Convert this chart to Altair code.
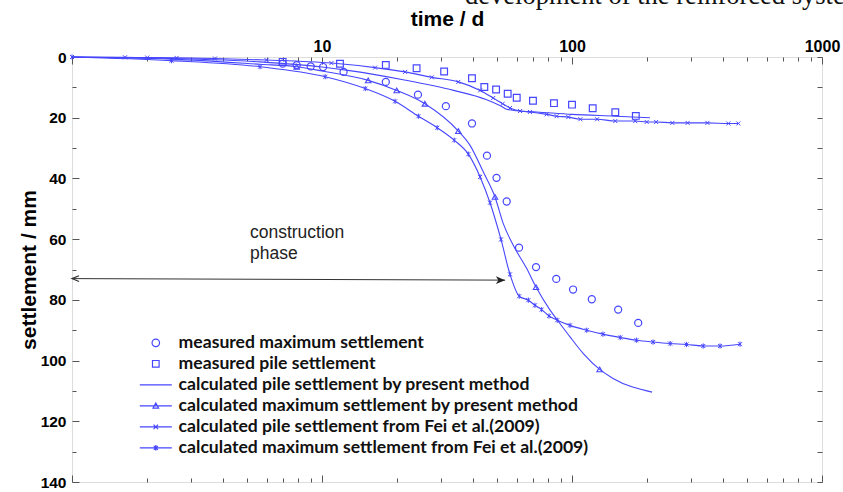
import altair as alt
import pandas as pd

# ---- measured data -------------------------------------------------------
meas_max_t = [6.96, 7.92, 9.01, 10.1, 12.2, 18.0, 24.2, 31.3, 39.8, 45.7, 49.9, 54.8,
              61.4, 71.8, 86.5, 101, 120, 153, 184]
meas_max_s = [2.2, 2.7, 3.1, 3.3, 4.9, 8.2, 12.4, 16.2, 21.9, 32.5, 39.8, 47.6,
              62.8, 69.2, 73.1, 76.6, 79.8, 83.2, 87.6]

meas_pile_t = [6.96, 11.8, 18.0, 23.9, 30.8, 39.8, 44.6, 49.7, 55.3, 60.1, 69.8, 84.7,
               100, 121, 149, 180]
meas_pile_s = [1.6, 2.2, 2.6, 3.7, 4.8, 7.0, 9.9, 10.7, 12.1, 13.4, 14.4, 15.2,
               15.7, 16.9, 18.2, 19.4]

# ---- calculated curves ---------------------------------------------------
calc_pile_t = [1.0, 2.5, 5.65, 10.0, 12.9, 21.1, 33.6, 45.3, 51.5, 54.8, 60.0, 72.2,
               100, 150, 205]
calc_pile_s = [0.0, 0.5, 1.6, 3.3, 4.5, 7.5, 11.0, 14.0, 16.0, 17.2, 17.7, 18.1,
               18.9, 19.5, 20.0]

calc_max_t = [1.0, 2.5, 5.65, 7.92, 10.0, 15.3, 19.9, 25.8, 35.1, 39.1, 44.2, 49.2,
              53.1, 58.2, 65.9, 71.8, 81.7, 89.5, 98.2, 111, 129, 146, 209]
calc_max_s = [0.0, 0.7, 2.4, 3.2, 4.6, 7.7, 11.0, 15.4, 24.4, 29.1, 37.9, 46.1,
              54.9, 62.0, 69.7, 75.8, 83.4, 87.8, 92.2, 97.7, 102.9, 105.9, 110.4]
calc_max_mark_t = [7.92, 15.3, 19.9, 25.8, 35.1, 49.2, 71.8, 129]
calc_max_mark_s = [3.2, 7.7, 11.0, 15.4, 24.4, 46.1, 75.8, 102.9]

fei_pile_t = [1.0, 1.63, 2.0, 2.62, 3.73, 6.0, 10.9, 16.3, 21.5, 27.5, 35.1, 42.9,
              48.4, 52.8, 56.5, 62.0, 67.9, 79.2, 86.8, 96.7, 108, 126, 149, 179,
              199, 217, 252, 290, 348, 422, 463]
fei_pile_s = [0.0, 0.1, 0.2, 0.3, 0.5, 1.0, 2.0, 3.5, 4.9, 6.7, 8.2, 11.0,
              13.5, 15.4, 16.8, 17.8, 18.1, 18.9, 19.5, 19.8, 20.5, 20.5, 21.1, 21.1,
              21.4, 21.4, 21.7, 21.7, 21.7, 21.9, 21.9]

fei_max_t = [1.0, 2.5, 5.65, 10.3, 14.9, 19.6, 24.3, 28.9, 33.8, 38.5, 42.9, 47.0,
             52.0, 56.5, 61.5, 66.9, 71.1, 75.6, 80.9, 87.3, 98.2, 114.5, 133, 156,
             181, 211, 247, 287, 335, 391, 470]
fei_max_s = [0.0, 1.2, 3.2, 6.5, 10.4, 14.6, 19.5, 23.3, 27.4, 32.0, 39.5, 48.0,
             60.1, 71.6, 78.8, 80.1, 81.8, 83.2, 85.3, 86.7, 88.4, 90.0, 91.3, 92.4,
             93.3, 93.9, 94.4, 94.7, 95.2, 95.2, 94.6]

# ---- annotations ---------------------------------------------------------
phase_t = [1.0, 54.0]
phase_s = [73.0, 73.5]
phase_text = ["construction", "phase"]
phase_text_t = [5.15, 5.15]
phase_text_s = [58.0, 64.8]
header_text = "development of the reinforced system"

series_names = [
    "measured maximum settlement",
    "measured pile settlement",
    "calculated pile settlement by present method",
    "calculated maximum settlement by present method",
    "calculated pile settlement from Fei et al.(2009)",
    "calculated maximum settlement from Fei et al.(2009)",
]

# ---- styling -------------------------------------------------------------
BLUE = "#4646ff"
GRAY = "#555555"
FONT = "Liberation Sans"

x_scale = alt.Scale(type="log", domain=[1, 1000], nice=False)
y_scale = alt.Scale(domain=[0, 140], reverse=True, nice=False)

major_x = [1, 10, 100, 1000]
minor_x = [m * d for d in (1, 10, 100) for m in range(2, 10)]
major_y = list(range(0, 141, 20))
minor_y = list(range(10, 140, 20))
all_y = list(range(0, 141, 10))

common = dict(grid=False, domain=False, tickColor=GRAY, tickWidth=1)

ax_top = alt.Axis(orient="top", values=major_x, tickSize=7, offset=-7,
                  labelExpr="datum.value >= 10 ? format(datum.value, 'd') : ''",
                  labelOverlap=False, labelFlush=False, labelPadding=3,
                  labelFont=FONT, labelFontSize=16, labelFontWeight="bold",
                  labelColor="black", title="time / d", titleFont=FONT,
                  titleFontSize=21, titleFontWeight="bold", titleColor="black",
                  titlePadding=9, **common)
ax_top_minor = alt.Axis(orient="top", values=minor_x, tickSize=4, offset=-4,
                        labels=False, title=None, **common)
ax_bottom = alt.Axis(orient="bottom", values=major_x, tickSize=7, offset=-7,
                     labels=False, title=None, **common)
ax_bottom_minor = alt.Axis(orient="bottom", values=minor_x, tickSize=4, offset=-4,
                           labels=False, title=None, **common)
ax_left = alt.Axis(orient="left", values=major_y, tickSize=7, offset=-7,
                   labelOverlap=False, labelFlush=False, labelPadding=6,
                   labelFont=FONT, labelFontSize=15.5, labelFontWeight="bold",
                   labelColor="black", title="settlement / mm", titleFont=FONT,
                   titleFontSize=21, titleFontWeight="bold", titleColor="black",
                   titlePadding=1, **common)
ax_left_minor = alt.Axis(orient="left", values=minor_y, tickSize=4, offset=-4,
                         labels=False, title=None, **common)
ax_right = alt.Axis(orient="right", values=all_y, tickSize=5, offset=-5,
                    labels=False, title=None, **common)


def enc(xaxis=None, yaxis=None):
    return dict(
        x=alt.X("t:Q", scale=x_scale, axis=xaxis),
        y=alt.Y("s:Q", scale=y_scale, axis=yaxis),
    )


def frame(t, s):
    return pd.DataFrame({"t": t, "s": s})


X_PATH = "M-1,-1L1,1M-1,1L1,-1"
STAR_PATH = "M-1,-1L1,1M-1,1L1,-1M0,-1.3L0,1.3"

circles = alt.Chart(frame(meas_max_t, meas_max_s)).mark_point(
    shape="circle", filled=False, size=50, strokeWidth=1.2, color=BLUE, opacity=1
).encode(**enc(ax_top, ax_left))

squares = alt.Chart(frame(meas_pile_t, meas_pile_s)).mark_point(
    shape="square", filled=False, size=45, strokeWidth=1.2, color=BLUE, opacity=1
).encode(**enc(ax_top_minor, ax_left_minor))

pile_line = alt.Chart(frame(calc_pile_t, calc_pile_s)).mark_line(
    interpolate="monotone", color=BLUE, strokeWidth=1.1
).encode(**enc(ax_bottom, ax_right))

max_line = alt.Chart(frame(calc_max_t, calc_max_s)).mark_line(
    interpolate="monotone", color=BLUE, strokeWidth=1.1
).encode(**enc(ax_bottom_minor, None))

max_marks = alt.Chart(frame(calc_max_mark_t, calc_max_mark_s)).mark_point(
    shape="triangle-up", filled=False, size=30, strokeWidth=1.1, color=BLUE, opacity=1
).encode(**enc())

fei_pile_line = alt.Chart(frame(fei_pile_t, fei_pile_s)).mark_line(
    interpolate="monotone", color=BLUE, strokeWidth=1.1
).encode(**enc())
fei_pile_marks = alt.Chart(frame(fei_pile_t, fei_pile_s)).mark_point(
    shape=X_PATH, filled=False, size=16, strokeWidth=1, color=BLUE, opacity=1
).encode(**enc())

fei_max_line = alt.Chart(frame(fei_max_t, fei_max_s)).mark_line(
    interpolate="monotone", color=BLUE, strokeWidth=1.1
).encode(**enc())
fei_max_marks = alt.Chart(frame(fei_max_t, fei_max_s)).mark_point(
    shape=STAR_PATH, filled=False, size=16, strokeWidth=1, color=BLUE, opacity=1
).encode(**enc())

# construction phase arrow
arrow_df = frame(phase_t, phase_s)
arrow_line = alt.Chart(arrow_df).mark_line(color="#333333", strokeWidth=1).encode(**enc())
arrow_left = alt.Chart(arrow_df.iloc[[0]]).mark_point(
    shape="M2.2,-0.9L0,0L2.2,0.9", filled=False, size=41, strokeWidth=1.2,
    color="#333333", opacity=1
).encode(**enc())
arrow_right = alt.Chart(arrow_df.iloc[[1]]).mark_point(
    shape="M0,0L-2.2,-0.9L-1.6,0L-2.2,0.9Z", filled=True, size=70,
    color="#222222", opacity=1
).encode(**enc())
phase_label = alt.Chart(
    pd.DataFrame({"t": phase_text_t, "s": phase_text_s, "label": phase_text})
).mark_text(align="left", baseline="middle", font=FONT, fontSize=17.5,
            color="#222222").encode(text="label:N", **enc())

# legend carried by an off-view layer of symbols
legend_paths = [
    "M-3.2,0M3.2,0M0.75,0A0.75,0.75,0,1,1,-0.75,0A0.75,0.75,0,1,1,0.75,0",
    "M-3.2,0M3.2,0M-0.66,-0.66L0.66,-0.66L0.66,0.66L-0.66,0.66Z",
    "M-3.2,0L3.2,0",
    "M-3.2,0L3.2,0M0,-0.55L0.55,0.45L-0.55,0.45Z",
    "M-3.2,0L3.2,0M-0.45,-0.45L0.45,0.45M-0.45,0.45L0.45,-0.45",
    "M-3.2,0L3.2,0M-0.4,-0.4L0.4,0.4M-0.4,0.4L0.4,-0.4M0,-0.55L0,0.55",
]
legend_df = pd.DataFrame({"series": series_names, "t": [500] * 6, "s": [-60] * 6})
legend_layer = alt.Chart(legend_df).mark_point(
    filled=False, strokeWidth=1.2, opacity=1, clip=True
).encode(
    shape=alt.Shape(
        "series:N",
        scale=alt.Scale(domain=series_names, range=legend_paths),
        legend=alt.Legend(
            title=None, orient="none", legendX=75, legendY=277, padding=0,
            symbolSize=100, symbolStrokeWidth=1.2, symbolStrokeColor=BLUE,
            symbolFillColor="transparent", labelFont="Lato", labelFontSize=17.6,
            labelFontWeight="bold", labelColor="#111111", labelOffset=14,
            rowPadding=2, labelLimit=0,
        ),
    ),
    color=alt.value(BLUE),
    stroke=alt.value(BLUE),
    **enc(),
)

header = alt.Chart(pd.DataFrame({"label": [header_text]})).mark_text(
    align="left", baseline="alphabetic", font="Liberation Serif", fontSize=26.5,
    color="#111111"
).encode(x=alt.value(393), y=alt.value(-53), text="label:N")

chart = alt.layer(
    circles, squares, pile_line, max_line, max_marks, fei_pile_line, fei_pile_marks,
    fei_max_line, fei_max_marks, arrow_line, arrow_left, arrow_right, phase_label,
    legend_layer, header,
).resolve_axis(x="independent", y="independent").properties(
    width=750,
    height=425,
    autosize=alt.AutoSizeParams(type="none"),
    padding={"left": 72, "top": 57, "right": 21, "bottom": 10},
).configure_view(stroke=GRAY, strokeWidth=1).configure(background="white")

chart.save("out.html", embed_options={"renderer": "svg", "actions": False})
